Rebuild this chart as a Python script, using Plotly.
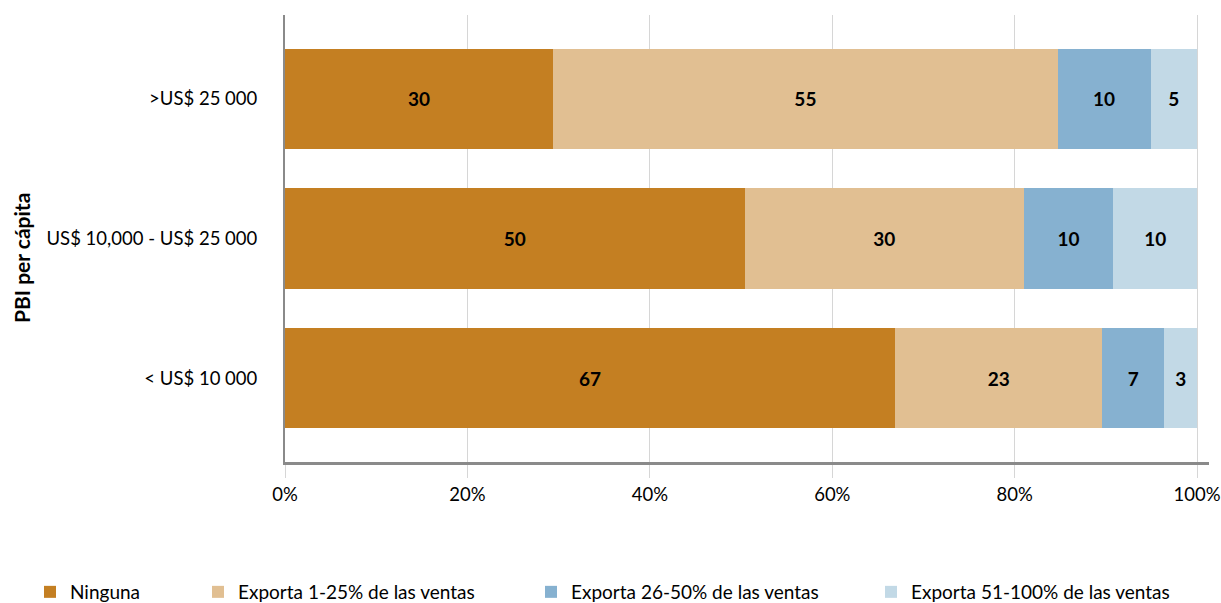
import plotly.graph_objects as go

categories = ["< US$ 10 000", "US$ 10,000 - US$ 25 000", ">US$ 25 000"]
series_names = ["Ninguna", "Exporta 1-25% de las ventas",
                "Exporta 26-50% de las ventas", "Exporta 51-100% de las ventas"]
ninguna = [66.9, 50.4, 29.4]
exporta_1_25 = [22.7, 30.6, 55.3]
exporta_26_50 = [6.8, 9.8, 10.2]
exporta_51_100 = [3.6, 9.2, 5.1]
labels_ninguna = ["67", "50", "30"]
labels_1_25 = ["23", "30", "55"]
labels_26_50 = ["7", "10", "10"]
labels_51_100 = ["3", "10", "5"]
x_tickvals = [0, 20, 40, 60, 80, 100]
x_ticktext = ["0%", "20%", "40%", "60%", "80%", "100%"]

colors = ["#C47F22", "#E1BF92", "#86B1D0", "#C2D9E6"]
values = [ninguna, exporta_1_25, exporta_26_50, exporta_51_100]
labels = [labels_ninguna, labels_1_25, labels_26_50, labels_51_100]

FONT = "Lato"
W, H = 1221, 603
ML, MR, MT, MB = 285, 12, 15, 141
PW = W - ML - MR
PH = H - MT - MB


def px_x(px):
    return (px - ML) / PW


def px_y(py):
    return (H - MB - py) / PH


fig = go.Figure()
legend_ids = ["legend", "legend2", "legend3", "legend4"]
legend_px = [30, 198, 531, 871]
for i in range(4):
    fig.add_trace(go.Bar(
        y=categories, x=values[i], orientation="h", name=series_names[i],
        marker=dict(color=colors[i], line=dict(width=0)),
        text=labels[i], textposition="inside", insidetextanchor="middle",
        textangle=0, constraintext="none",
        textfont=dict(family=FONT, size=19, color="black", weight="bold"),
        legend=legend_ids[i], showlegend=True,
    ))

layout_legends = {}
for i, lid in enumerate(legend_ids):
    layout_legends[lid] = dict(
        x=px_x(legend_px[i]), xanchor="left", y=px_y(592), yanchor="middle",
        orientation="h", font=dict(family=FONT, size=19, color="black"),
        bgcolor="rgba(0,0,0,0)",
    )

fig.update_layout(
    width=W, height=H, showlegend=True,
    margin=dict(l=ML, r=MR, t=MT, b=MB, autoexpand=False),
    barmode="stack", bargap=0.283,
    plot_bgcolor="white", paper_bgcolor="white",
    font=dict(family=FONT, size=18, color="black"),
    xaxis=dict(range=[0, 101.3], tickvals=x_tickvals, ticktext=x_ticktext,
               showgrid=True, gridcolor="#d6d6d6", gridwidth=1,
               ticks="outside", ticklen=13, tickcolor="#d6d6d6", tickwidth=1,
               showline=True, linecolor="#8a8a8a", linewidth=3,
               zeroline=False, ticklabelstandoff=1,
               tickfont=dict(family=FONT, size=18.5, color="black")),
    yaxis=dict(type="category", categoryorder="array", categoryarray=categories,
               range=[-0.6, 2.6], showgrid=False,
               showline=True, linecolor="#8a8a8a", linewidth=2,
               ticks="", ticklabelstandoff=22,
               tickfont=dict(family=FONT, size=18.5, color="black")),
    annotations=[dict(text="PBI per cápita", textangle=-90,
                      xref="paper", yref="paper", x=px_x(21), y=px_y(258),
                      xanchor="center", yanchor="middle", showarrow=False,
                      font=dict(family=FONT, size=21, color="black",
                                weight="bold"))],
    **layout_legends,
)

fig.write_html(
    "out.html",
    config={"displayModeBar": False},
    post_script="document.body.style.margin='0';document.body.style.overflow='hidden';",
)
